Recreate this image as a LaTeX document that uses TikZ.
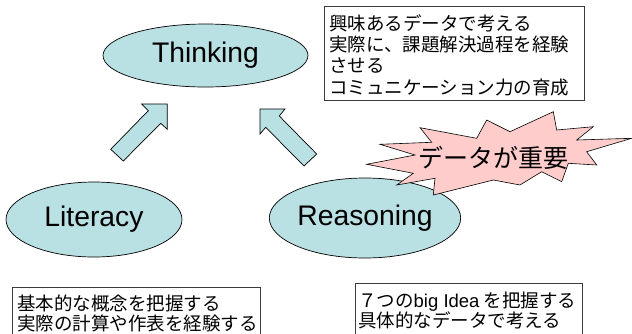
\documentclass[tikz,border=0pt]{standalone}
\usepackage{fontspec}
\setmainfont{Noto Sans CJK JP}
\setsansfont{Liberation Sans}
\usetikzlibrary{shapes.geometric}
\definecolor{ellfill}{RGB}{185,224,227}
\definecolor{burstfill}{RGB}{255,204,204}
\definecolor{boxline}{RGB}{60,60,60}
\begin{document}
\begin{tikzpicture}[x=1pt,y=-1pt,
  bubble/.style={ellipse, draw=black, line width=0.7pt, fill=ellfill, inner sep=0pt,
    font=\sffamily\fontsize{28.3}{32}\selectfont},
  frame/.style={draw=boxline, line width=0.8pt},
  jp/.style={anchor=base west, inner sep=0pt, font=\fontsize{18.5}{21}\selectfont},
  blockarrow/.style={draw=black, line width=0.7pt, fill=ellfill, line join=miter},
  burst/.style={draw=black, line width=0.6pt, fill=burstfill, line join=miter},
  bursttext/.style={inner sep=0pt, font=\fontsize{25}{28}\selectfont}]
\useasboundingbox (0,0) rectangle (632,333);
\fill[white] (0,0) rectangle (632,333);
\clip (0,0) rectangle (632,333);

% text boxes
\draw[frame] (324,6) rectangle (584,100);
\node[jp] (r1) at (329,30) {興味あるデータで考える};
\node[jp] (r2) at (329,51.3) {実際に、課題解決過程を経験};
\node[jp] (r3) at (329,72.6) {させる};
\node[jp] (r4) at (329,94) {コミュニケーション力の育成};

\draw[frame] (12,287) rectangle (260,345);
\node[jp] (l1) at (17,310) {基本的な概念を把握する};
\node[jp] (l2) at (17,330.5) {実際の計算や作表を経験する};

\draw[frame] (355,283) rectangle (582,345);
\node[jp] (q1) at (358,307) {７つの{\sffamily big Idea} を把握する};
\node[jp] (q2) at (358,327.5) {具体的なデータで考える};

% ellipses
\node[bubble, minimum width=205pt, minimum height=63pt] (think) at (205.5,55.5) {Thinking};
\node[bubble, minimum width=176pt, minimum height=75pt] (lit) at (94,219.5) {Literacy};
\node[bubble, minimum width=177pt, minimum height=80pt] (reas) at (365,218) {Reasoning};

% block arrows
\draw[blockarrow] (167.3,104) -- (141.7,104) -- (148.3,110.7) -- (110.7,149.3)
  -- (123.3,161) -- (160.7,123.3) -- (167.3,129.3) -- cycle;
\draw[blockarrow] (260,109) -- (285,109) -- (279.3,116) -- (316.7,154)
  -- (304,166) -- (265.7,127.3) -- (260,134) -- cycle;

% starburst
\draw[burst] (366.7,164.3) -- (415,155) -- (380,144.3) -- (431.7,142.3)
  -- (420,127.7) -- (476.7,138.3) -- (486.7,120) -- (510,131.7)
  -- (553.3,111.7) -- (556.7,130) -- (593.3,126.7) -- (576.7,140)
  -- (631.7,138.3) -- (586.7,151.7) -- (596.7,165) -- (568.3,163.3)
  -- (561.7,181.7) -- (541.7,171.7) -- (520,185) -- (493.3,180)
  -- (433.3,195) -- (435,178.3) -- (396.7,185) -- (413.3,173.3) -- cycle;
\node[bursttext] (imp) at (493,158) {データが重要};
\end{tikzpicture}
\end{document}
